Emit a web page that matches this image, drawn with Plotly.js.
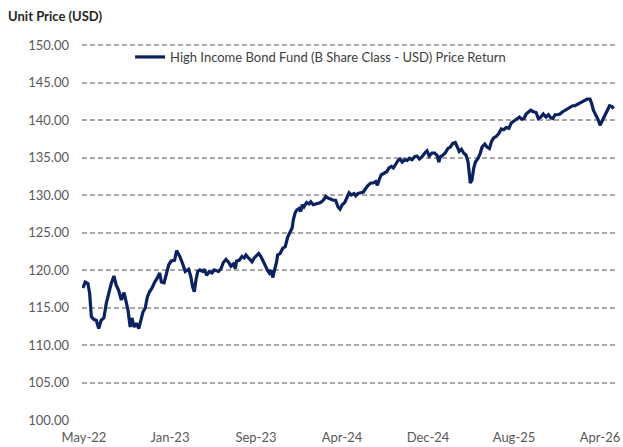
<!DOCTYPE html>
<html>
<head>
<meta charset="utf-8">
<script src="https://cdn.plot.ly/plotly-3.0.1.min.js"></script>
<style>html,body{margin:0;padding:0;background:#fff;}#chart{width:623px;height:447px;}</style>
</head>
<body>
<div id="chart"></div>
<script>
const weeks = [
  -0.4, 0.5, 1.6, 2.3, 3.0, 4.1, 5.0, 6.0, 7.0, 8.1, 9.1, 10.1, 11.1, 12.2, 13.1, 14.1, 15.2, 16.3, 17.2, 17.9,
  18.8, 19.5, 20.4, 21.3, 22.3, 23.1, 24.0, 24.9, 25.8, 26.7, 27.7, 28.8, 29.8, 30.8, 31.5, 32.6, 33.5, 34.5, 35.5, 36.9,
  37.7, 39.0, 40.3, 41.2, 42.6, 43.5, 44.2, 44.9, 45.6, 46.3, 47.2, 48.3, 49.0, 49.9, 51.0, 52.1, 53.0, 54.0, 54.8, 55.8,
  56.7, 57.8, 58.9, 59.8, 60.8, 61.6, 62.1, 63.2, 64.3, 65.2, 65.9, 66.7, 67.6, 68.4, 69.3, 70.3, 71.1, 72.0, 73.0, 73.8,
  74.8, 75.4, 76.1, 76.8, 77.5, 78.4, 78.8, 79.8, 80.9, 81.9, 82.9, 83.8, 84.7, 85.2, 85.9, 86.6, 87.5, 88.2, 88.8, 89.5,
  90.6, 91.6, 92.3, 93.3, 94.3, 95.2, 96.3, 97.4, 98.4, 99.3, 100.4, 101.5, 102.4, 103.4, 104.2, 105.1, 106.1, 106.9, 107.9, 108.8,
  109.9, 110.6, 111.5, 112.6, 113.7, 114.7, 115.6, 116.7, 117.7, 118.7, 119.4, 120.1, 121.0, 122.1, 123.2, 124.1, 125.1, 125.9, 126.9, 127.8,
  128.6, 129.5, 130.5, 131.5, 132.4, 133.5, 134.6, 135.5, 136.5, 137.6, 138.7, 139.6, 140.5, 141.6, 142.7, 143.7, 144.4, 145.0, 146.0, 147.0,
  148.1, 149.1, 150.1, 151.1, 151.8, 152.7, 153.6, 154.5, 155.5, 156.3, 156.8, 157.2, 157.9, 158.6, 159.3, 160.4, 161.3, 162.0, 163.1, 164.0,
  165.0, 165.8, 166.7, 167.7, 168.8, 169.8, 170.8, 171.8, 172.9, 173.9, 174.7, 176.1, 177.2, 178.1, 179.1, 179.9, 180.8, 181.8, 182.9, 184.0,
  184.9, 185.9, 186.9, 188.0, 189.0, 189.9, 190.8, 191.7, 192.6, 193.7, 194.8, 195.8, 196.7, 197.8, 198.9, 199.8, 200.8, 201.9, 203.0, 203.9,
  204.8, 205.9, 206.6, 207.3, 208.4, 209.3, 210.0, 210.7, 211.4, 212.1, 213.1, 213.9, 214.9, 215.5
];
// Unit price (USD)
const price = [
  117.6, 118.4, 118.2, 116.9, 113.8, 113.4, 113.3, 112.2, 113.3, 113.6, 115.6, 117.1, 118.2, 119.2, 118.0, 117.3, 116.0, 117.0, 115.8, 114.7,
  112.4, 113.6, 112.4, 112.9, 112.2, 113.3, 114.4, 114.9, 116.4, 117.1, 117.6, 118.4, 118.9, 119.6, 118.4, 118.3, 119.6, 120.7, 121.2, 121.3,
  122.6, 121.8, 120.7, 119.8, 120.1, 119.1, 117.8, 117.1, 118.7, 119.8, 120.0, 119.8, 120.1, 119.3, 119.8, 119.6, 120.0, 119.9, 119.8, 120.2,
  121.0, 121.4, 121.0, 120.5, 120.8, 120.2, 121.2, 121.3, 121.8, 121.6, 122.0, 121.7, 121.3, 121.1, 121.6, 121.9, 122.2, 121.8, 121.1, 120.4,
  119.9, 119.6, 120.0, 119.0, 119.8, 121.1, 122.0, 122.2, 122.9, 123.1, 124.4, 125.1, 125.6, 126.7, 127.6, 128.0, 128.2, 127.8, 128.7, 128.4,
  129.0, 128.8, 129.1, 128.7, 128.8, 128.9, 129.0, 129.3, 129.8, 129.6, 129.4, 129.3, 129.3, 128.4, 128.1, 128.7, 129.0, 129.6, 130.3, 130.0,
  130.2, 129.9, 130.2, 130.3, 130.4, 130.9, 131.3, 131.6, 131.6, 131.8, 131.3, 132.0, 132.7, 132.9, 133.1, 133.6, 133.8, 133.6, 134.2, 134.6,
  134.8, 134.4, 134.7, 134.6, 134.9, 134.7, 135.1, 135.2, 134.8, 135.1, 135.6, 135.9, 135.2, 135.6, 135.6, 135.3, 134.4, 135.1, 135.3, 135.6,
  136.2, 136.4, 136.9, 137.0, 136.5, 135.8, 136.1, 135.6, 135.3, 134.4, 132.9, 131.6, 132.0, 133.6, 134.4, 134.9, 135.6, 136.4, 136.8, 136.4,
  136.2, 137.1, 137.6, 137.8, 138.2, 138.8, 138.7, 139.0, 138.9, 139.6, 139.8, 140.2, 140.4, 140.1, 140.2, 140.8, 141.1, 141.3, 141.1, 141.0,
  140.2, 140.4, 140.8, 140.4, 140.7, 140.3, 140.2, 140.7, 140.7, 140.8, 141.1, 141.3, 141.5, 141.6, 141.9, 141.9, 142.1, 142.2, 142.5, 142.7,
  142.8, 142.8, 142.2, 141.3, 140.7, 140.0, 139.3, 139.8, 140.2, 140.8, 141.5, 141.9, 141.8, 141.5
];
// Axis labels
const tickWeeks = [0, 35, 70, 105, 140, 175, 210];
const tickLabels = ["May-22", "Jan-23", "Sep-23", "Apr-24", "Dec-24", "Aug-25", "Apr-26"];
const seriesName = "High Income Bond Fund (B Share Class - USD) Price Return";

const trace = {
  x: weeks,
  y: price,
  type: "scatter",
  mode: "lines",
  name: seriesName,
  line: {color: "#0b2160", width: 3.2},
  showlegend: true
};

const layout = {
  width: 623,
  height: 447,
  margin: {l: 82, r: 7, t: 43, b: 26, pad: 0},
  paper_bgcolor: "#ffffff",
  plot_bgcolor: "#ffffff",
  font: {family: "Lato, 'Liberation Sans', sans-serif", size: 13, color: "#404040"},
  title: {
    text: "<b>Unit Price (USD)</b>",
    xref: "container", yref: "container",
    x: 0.013, xanchor: "left",
    y: 0.963, yanchor: "middle",
    font: {family: "Lato, 'Liberation Sans', sans-serif", size: 13, color: "#262626"}
  },
  xaxis: {
    range: [-0.8, 216.5],
    tickmode: "array",
    tickvals: tickWeeks,
    ticktext: tickLabels,
    showgrid: false,
    zeroline: false,
    showline: false,
    ticks: "",
    ticklabelstandoff: 7,
    tickfont: {size: 13, color: "#595959"}
  },
  yaxis: {
    range: [99.8667, 150.2667],
    dtick: 5,
    tick0: 100,
    tickformat: ".2f",
    showgrid: true,
    gridcolor: "#a8a8a8",
    gridwidth: 2,
    griddash: "5px,3px",
    zeroline: false,
    showline: false,
    ticks: "",
    ticklabelstandoff: 12,
    tickfont: {size: 13, color: "#595959"}
  },
  legend: {
    x: 0.09, xanchor: "left",
    y: 0.963, yanchor: "middle",
    bgcolor: "rgba(255,255,255,0)",
    font: {size: 13, color: "#404040"}
  },
  hovermode: false
};

Plotly.newPlot("chart", [trace], layout, {staticPlot: true, displayModeBar: false});
</script>
</body>
</html>
